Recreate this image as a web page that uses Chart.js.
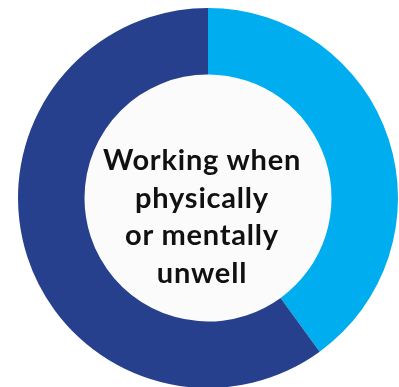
<!DOCTYPE html>
<html lang="en">
<head>
    <meta charset="UTF-8">
    <title>Working when physically or mentally unwell</title>
    <script src="https://cdn.jsdelivr.net/npm/chart.js@4/dist/chart.umd.min.js"></script>
    <style>
      html, body { margin: 0; padding: 0; background: #fff; overflow: hidden; }
      .chart-container { position: relative; width: 399px; height: 387px; }
      .center-label {
        position: absolute; left: 92px; top: 140px; width: 220px;
        text-align: center; font-family: Lato, "Open Sans", sans-serif;
        font-weight: 700; font-size: 29px; letter-spacing: 0.8px;
        line-height: 37.5px; color: #111;
      }
    </style>
    <script>
      const labels = ['Yes', 'No']
      const values = [40, 60]
      const colors = ['#00AEEF', '#27408E']

      // paints the hole in the middle a faint grey
      const holeFill = {
        id: 'holeFill',
        beforeDatasetsDraw(chart) {
          const arc = chart.getDatasetMeta(0).data[0]
          if (!arc) return
          const { x, y, innerRadius } = arc.getProps(['x', 'y', 'innerRadius'], true)
          const c = chart.ctx
          c.save()
          c.fillStyle = '#fbfbfb'
          c.beginPath()
          c.arc(x, y, innerRadius, 0, Math.PI * 2)
          c.fill()
          c.restore()
        }
      }

      window.onload = function() {
        const ctx = document.getElementById('chart').getContext('2d')

        var myChart = new Chart(ctx, {
          type: 'doughnut',
          data: {
            labels: labels,
            datasets: [{
              data: values,
              backgroundColor: colors,
              borderWidth: 0
            }]
          },
          options: {
            responsive: false,
            animation: false,
            radius: 190,
            cutout: '65%',
            layout: { padding: { left: 17, top: 9 } },
            plugins: {
              legend: { display: false },
              tooltip: { enabled: false }
            }
          },
          plugins: [holeFill]
        });
      }
    </script>
</head>
<body>
<div class="chart-container">
    <canvas id="chart" width="399" height="387"></canvas>
    <div class="center-label">Working when<br>physically<br>or mentally<br>unwell</div>
</div>
</body>
</html>
